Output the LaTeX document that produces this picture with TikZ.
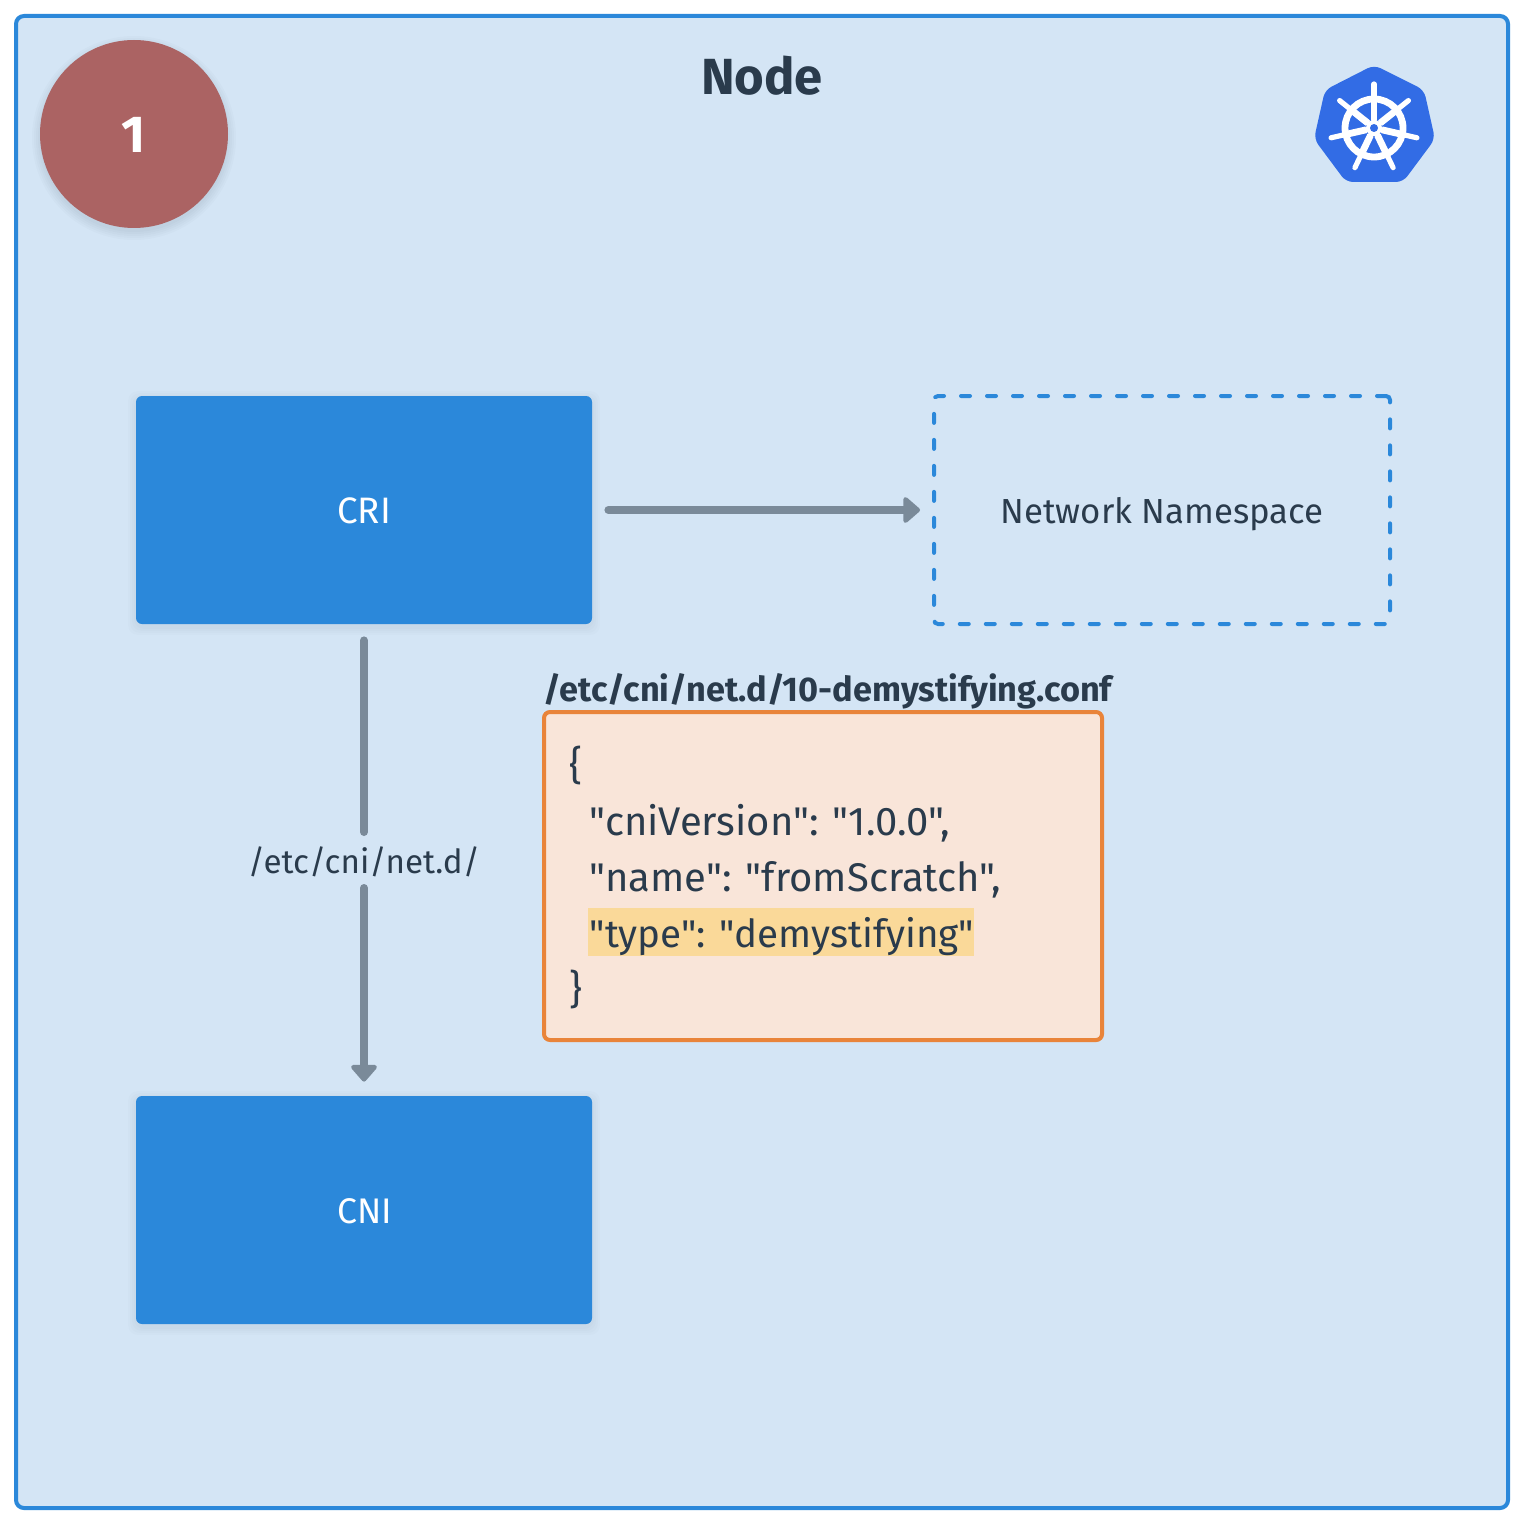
\documentclass[tikz,border=0pt]{standalone}
\usepackage{fontspec}
\setmainfont{Fira Sans}
\newfontfamily\codef{Fira Sans}
\usetikzlibrary{arrows.meta,calc}
\definecolor{bgc}{HTML}{D4E5F5}
\definecolor{blu}{HTML}{2B88DA}
\definecolor{redc}{HTML}{AB6363}
\definecolor{gry}{HTML}{7A8A99}
\definecolor{txt}{HTML}{2A3B4C}
\definecolor{orf}{HTML}{F9E5D9}
\definecolor{orb}{HTML}{E9843A}
\definecolor{hil}{HTML}{FAD999}
\definecolor{k8s}{HTML}{326CE5}
\tikzset{
  x=0.5pt,y=-0.5pt,
  bluebox/.style={fill=blu,rounded corners=3pt,minimum width=228pt,minimum height=114pt,inner sep=0pt},
  conn/.style={draw=gry,line width=4pt,line cap=round},
  connarrow/.style={conn,-{Triangle[length=9pt,width=15pt,round]}},
  labeltext/.style={anchor=base,inner sep=0pt,font=\fontsize{17.4}{20}\selectfont},
  txtline/.style={anchor=base west,inner sep=0pt,text=txt,font=\codef\fontsize{20}{24}\selectfont},
  shad/.style={fill=black,fill opacity=0.010,rounded corners=5pt},
  spoke/.style={draw=white,line width=2.6pt,line cap=round},
  spokein/.style={draw=white,line width=3.4pt},
}
\begin{document}
\begin{tikzpicture}
\useasboundingbox (0,0) rectangle (1524,1524);
\fill[white] (0,0) rectangle (1524,1524);
\draw[fill=bgc,draw=blu,line width=2pt,rounded corners=4pt] (16,16) rectangle (1508,1508);
\foreach \r in {102,100,98,96,94}{\fill[black,fill opacity=0.016] (134,138) circle[radius=\r];}
\node[circle,fill=redc,minimum size=94pt,inner sep=0pt] (badge) at (134,134) {};
\node[anchor=base,inner sep=0pt,text=white,font=\fontsize{26}{30}\bfseries\selectfont] (num) at (134,153) {1};
\node[anchor=base,inner sep=0pt,text=txt,font=\fontsize{25.4}{30}\bfseries\selectfont] (title) at (762,95) {Node};
\foreach \d in {8,6,4,2}{
  \fill[shad] (136-\d,396-\d+3) rectangle (592+\d,624+\d+3);
  \fill[shad] (136-\d,1096-\d+3) rectangle (592+\d,1324+\d+3);
}
\node[bluebox] (cri) at (364,510) {};
\node[bluebox] (cni) at (364,1210) {};
\node[labeltext,text=white,font=\fontsize{18.4}{20}\selectfont] (crit) at (364,523) {CRI};
\node[labeltext,text=white,font=\fontsize{17.8}{20}\selectfont] (cnit) at (365,1223) {CNI};
\node[draw=blu,line width=2pt,dash pattern=on 4.5pt off 8.5pt,line cap=round,rounded corners=2pt,minimum width=228pt,minimum height=114pt,inner sep=0pt] (ns) at (1162,510) {};
\node[labeltext,text=txt] (nst) at (1162,523) {Network Namespace};
\draw[connarrow,shorten <=8pt,shorten >=6pt] (cri.east) -- (ns.west);
\node[labeltext,text=txt,font=\fontsize{16.6}{20}\selectfont] (lab) at (364,873) {/etc/cni/net.d/};
\coordinate (labtop) at (364,832);
\coordinate (labbot) at (364,888);
\draw[conn,shorten <=8pt] (cri.south) -- (labtop);
\draw[connarrow,shorten >=7pt] (labbot) -- (cni.north);
\node[draw=orb,fill=orf,line width=2pt,rounded corners=3pt,minimum width=279pt,minimum height=164pt,inner sep=0pt] (conf) at (823,876) {};
\fill[hil] (588,908) rectangle (974,956);
\node[txtline,font=\fontsize{17.15}{20}\bfseries\selectfont] (fname) at (543,701) {/etc/cni/net.d/10-demystifying.conf};
\node[txtline] (l0) at (569,779) {\{};
\node[txtline] (l1) at (589,835) {"cniVersion": "1.0.0",};
\node[txtline] (l2) at (589,891) {"name": "fromScratch",};
\node[txtline,font=\codef\fontsize{19.3}{24}\selectfont] (l3) at (589,947) {"type": "demystifying"};
\node[txtline] (l4) at (569,1003) {\}};
\fill[k8s,rounded corners=3.5pt]
  (1374,65) -- (1424,90) -- (1435,139) -- (1403,182) -- (1346,182) -- (1314,139) -- (1325,90) -- cycle;
\coordinate (hub) at (1374,128);
\draw[white,line width=3.4pt] (hub) circle[radius=29];
\foreach \k in {0,...,6}{
  \pgfmathsetmacro{\a}{-90+\k*51.4286}
  \draw[spoke] ($(hub)+(\a:8)$) -- ($(hub)+(\a:44)$);
  \draw[spokein] ($(hub)+(\a:8)$) -- ($(hub)+(\a:29)$);
}
\fill[white] (hub) circle[radius=8];
\fill[k8s] (hub) circle[radius=4];
\end{tikzpicture}
\end{document}
